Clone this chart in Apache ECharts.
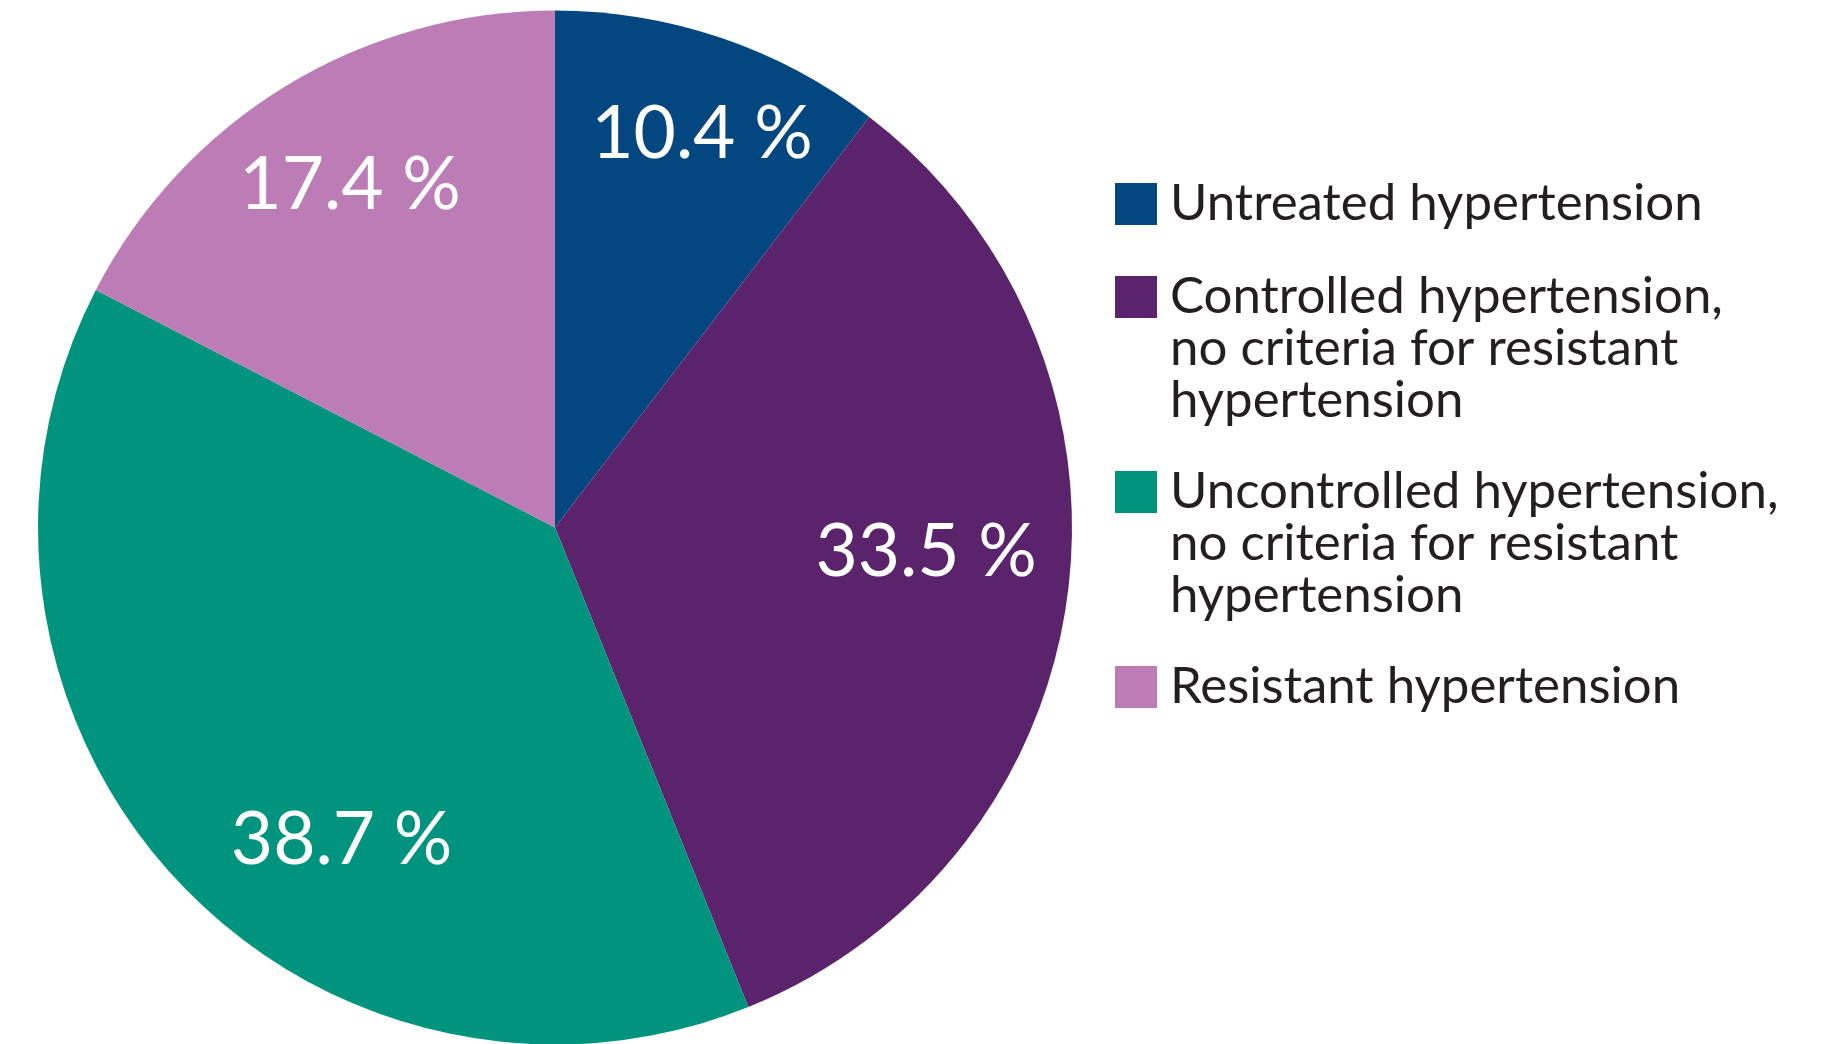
<!DOCTYPE html>
<html>
<head>
<meta charset="utf-8">
<title>Hypertension categories</title>
<script src="https://cdn.jsdelivr.net/npm/echarts@6/dist/echarts.min.js"></script>
<style>
  html, body { margin: 0; padding: 0; background: #ffffff; }
  #chart { width: 1829px; height: 1044px; }
</style>
</head>
<body>
<div id="chart"></div>
<script>
// categories and shares (%)
const categories = [
  "Untreated hypertension",
  "Controlled hypertension,\nno criteria for resistant\nhypertension",
  "Uncontrolled hypertension,\nno criteria for resistant\nhypertension",
  "Resistant hypertension"
];
const shares = [10.4, 33.5, 38.7, 17.4];
const colors = ["#04467f", "#5b236c", "#00947f", "#bc7cb5"];

// label nudges from the default inside position
const labelNudge = [[63, -145], [112, -10], [-20, 137], [-69, -119]];
// legend row tops
const legendTops = [178, 167, 362, 661];

const LINE = 52;

const chart = echarts.init(document.getElementById("chart"));

const legends = categories.map((name, i) => {
  const lines = name.split("\n").length;
  return {
    orient: "vertical",
    left: 1115,
    top: legendTops[i],
    padding: 0,
    itemWidth: 42,
    itemHeight: 42,
    icon: "rect",
    selectedMode: false,
    data: [name],
    // blank lines on top so the square sits beside the first line
    formatter: (n) => "\n".repeat(lines - 1) + n,
    textStyle: {
      fontFamily: "Lato",
      fontSize: 51,
      lineHeight: LINE,
      color: "#231f20",
      padding: [0, 0, 0, 8]
    }
  };
});

const option = {
  animation: false,
  backgroundColor: "#ffffff",
  color: colors,
  legend: legends,
  series: [
    {
      type: "pie",
      center: [555, 527.5],
      radius: 517,
      startAngle: 90,
      clockwise: true,
      avoidLabelOverlap: false,
      emphasis: { disabled: true },
      itemStyle: { borderWidth: 0 },
      label: {
        show: true,
        position: "inside",
        color: "#ffffff",
        fontFamily: "Lato",
        fontSize: 73,
        formatter: (p) => p.value + " %"
      },
      labelLine: { show: false },
      labelLayout: (p) => ({
        dx: labelNudge[p.dataIndex][0],
        dy: labelNudge[p.dataIndex][1]
      }),
      data: categories.map((name, i) => ({ name: name, value: shares[i] }))
    }
  ]
};

chart.setOption(option);
</script>
</body>
</html>
